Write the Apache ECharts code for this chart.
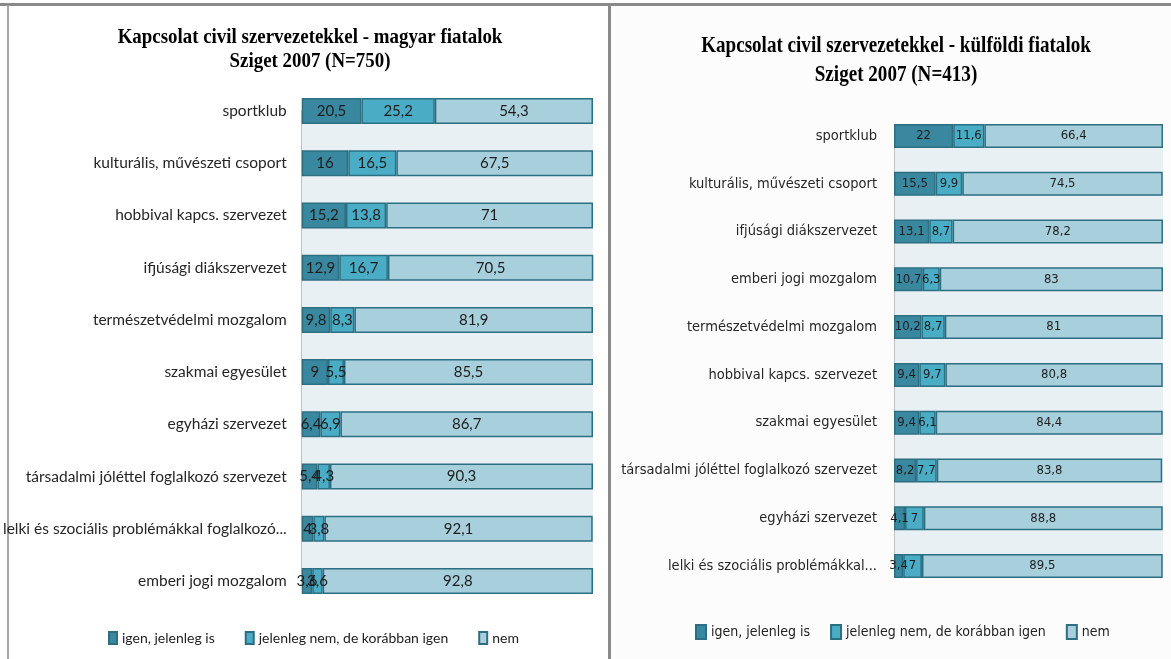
<!DOCTYPE html>
<html>
<head>
<meta charset="utf-8">
<script src="https://cdn.jsdelivr.net/npm/echarts@6/dist/echarts.min.js"></script>
<style>html,body{margin:0;padding:0;background:#fff;}#c{width:1171px;height:659px;}</style>
</head>
<body>
<div id="c"></div>
<script>
const seriesNames = ['igen, jelenleg is', 'jelenleg nem, de korábban igen', 'nem'];

const catsHU = ['sportklub','kulturális, művészeti csoport','hobbival kapcs. szervezet','ifjúsági diákszervezet','természetvédelmi mozgalom','szakmai egyesület','egyházi szervezet','társadalmi jóléttel foglalkozó szervezet','lelki és szociális problémákkal foglalkozó...','emberi jogi mozgalom'];
const huIgen = [20.5,16,15.2,12.9,9.8,9,6.4,5.4,4,3.6];
const huKorabban = [25.2,16.5,13.8,16.7,8.3,5.5,6.9,4.3,3.8,3.6];
const huNem = [54.3,67.5,71,70.5,81.9,85.5,86.7,90.3,92.1,92.8];

const catsINT = ['sportklub','kulturális, művészeti csoport','ifjúsági diákszervezet','emberi jogi mozgalom','természetvédelmi mozgalom','hobbival kapcs. szervezet','szakmai egyesület','társadalmi jóléttel foglalkozó szervezet','egyházi szervezet','lelki és szociális problémákkal...'];
const intIgen = [22,15.5,13.1,10.7,10.2,9.4,9.4,8.2,4.1,3.4];
const intKorabban = [11.6,9.9,8.7,6.3,8.7,9.7,6.1,7.7,7,7];
const intNem = [66.4,74.5,78.2,83,81,80.8,84.4,83.8,88.8,89.5];

const titleHU = ['Kapcsolat civil szervezetekkel - magyar fiatalok', 'Sziget 2007 (N=750)'];
const titleINT = ['Kapcsolat civil szervezetekkel - külföldi fiatalok', 'Sziget 2007 (N=413)'];

const colors = ['#3a88a0', '#4bacc6', '#a7cfdc'];
const borderCol = '#2c6f82';
const fontL = 'Lato, "Open Sans", sans-serif';
const fontR = '"DejaVu Sans Condensed", "Liberation Sans Narrow", sans-serif';

const chart = echarts.init(document.getElementById('c'));

function fmt(p){ return String(p.value).replace('.', ','); }

function mkSeries(name, data, gi, ci, labelFont, labelSize, barW){
  return {
    type: 'bar', name: name, data: data, stack: 's' + gi,
    xAxisIndex: gi, yAxisIndex: gi, barWidth: barW, clip: false,
    itemStyle: { color: colors[ci], borderColor: borderCol, borderWidth: 1.5 },
    label: { show: true, position: 'inside', formatter: fmt, color: '#1e1e1e',
             fontFamily: labelFont, fontSize: labelSize },
    emphasis: { disabled: true }
  };
}

const option = {
  animation: false,
  graphic: [
    { type: 'rect', shape: { x: 610, y: 5, width: 561, height: 654 }, style: { fill: '#fcfcfc' }, z: -10 },
    { type: 'rect', shape: { x: 0, y: 3, width: 1171, height: 3 }, style: { fill: '#8a8a8a' } },
    { type: 'rect', shape: { x: 7, y: 5, width: 2, height: 654 }, style: { fill: '#a8a8a8' } },
    { type: 'rect', shape: { x: 608, y: 5, width: 3, height: 654 }, style: { fill: '#8a8a8a' } },
    { type: 'text', x: 310, y: 38, scaleX: 0.9, style: { text: titleHU[0], font: 'bold 21px "Liberation Serif", serif', fill: '#000', align: 'center', verticalAlign: 'middle' } },
    { type: 'text', x: 310, y: 62, scaleX: 0.9, style: { text: titleHU[1], font: 'bold 21px "Liberation Serif", serif', fill: '#000', align: 'center', verticalAlign: 'middle' } },
    { type: 'text', x: 896, y: 46, scaleX: 0.83, style: { text: titleINT[0], font: 'bold 23px "Liberation Serif", serif', fill: '#000', align: 'center', verticalAlign: 'middle' } },
    { type: 'text', x: 896, y: 75, scaleX: 0.83, style: { text: titleINT[1], font: 'bold 23px "Liberation Serif", serif', fill: '#000', align: 'center', verticalAlign: 'middle' } }
  ],
  legend: [
    { data: seriesNames, left: 103, top: 626, icon: 'rect', itemWidth: 8, itemHeight: 12, itemGap: 30,
      textStyle: { fontFamily: fontL, fontSize: 14, color: '#222' } },
    { data: seriesNames.map(n => n), left: 690, top: 619, icon: 'rect', itemWidth: 10, itemHeight: 14, itemGap: 20,
      textStyle: { fontFamily: fontR, fontSize: 14, color: '#222' } }
  ],
  grid: [
    { left: 300, top: 111, width: 293, height: 470, show: true, backgroundColor: '#e9f0f4', borderWidth: 0 },
    { left: 894, top: 136, width: 269, height: 430, show: true, backgroundColor: '#e9f0f4', borderWidth: 0 }
  ],
  xAxis: [
    { gridIndex: 0, type: 'value', min: 0, max: 100, show: false },
    { gridIndex: 1, type: 'value', min: 0, max: 100, show: false }
  ],
  yAxis: [
    { gridIndex: 0, type: 'category', data: catsHU, inverse: true, boundaryGap: false,
      axisLine: { show: true, lineStyle: { color: '#c0c0c0' } }, axisTick: { show: false }, splitLine: { show: false },
      axisLabel: { margin: 15, fontFamily: fontL, fontSize: 15.5, color: '#262626' } },
    { gridIndex: 1, type: 'category', data: catsINT, inverse: true, boundaryGap: false,
      axisLine: { show: true, lineStyle: { color: '#c0c0c0' } }, axisTick: { show: false }, splitLine: { show: false },
      axisLabel: { margin: 17, fontFamily: fontR, fontSize: 14.5, color: '#262626' } }
  ],
  series: [
    mkSeries(seriesNames[0], huIgen, 0, 0, fontL, 15, 26),
    mkSeries(seriesNames[1], huKorabban, 0, 1, fontL, 15, 26),
    mkSeries(seriesNames[2], huNem, 0, 2, fontL, 15, 26),
    mkSeries(seriesNames[0], intIgen, 1, 0, fontR, 13, 24),
    mkSeries(seriesNames[1], intKorabban, 1, 1, fontR, 13, 24),
    mkSeries(seriesNames[2], intNem, 1, 2, fontR, 13, 24)
  ]
};
chart.setOption(option);
</script>
</body>
</html>
